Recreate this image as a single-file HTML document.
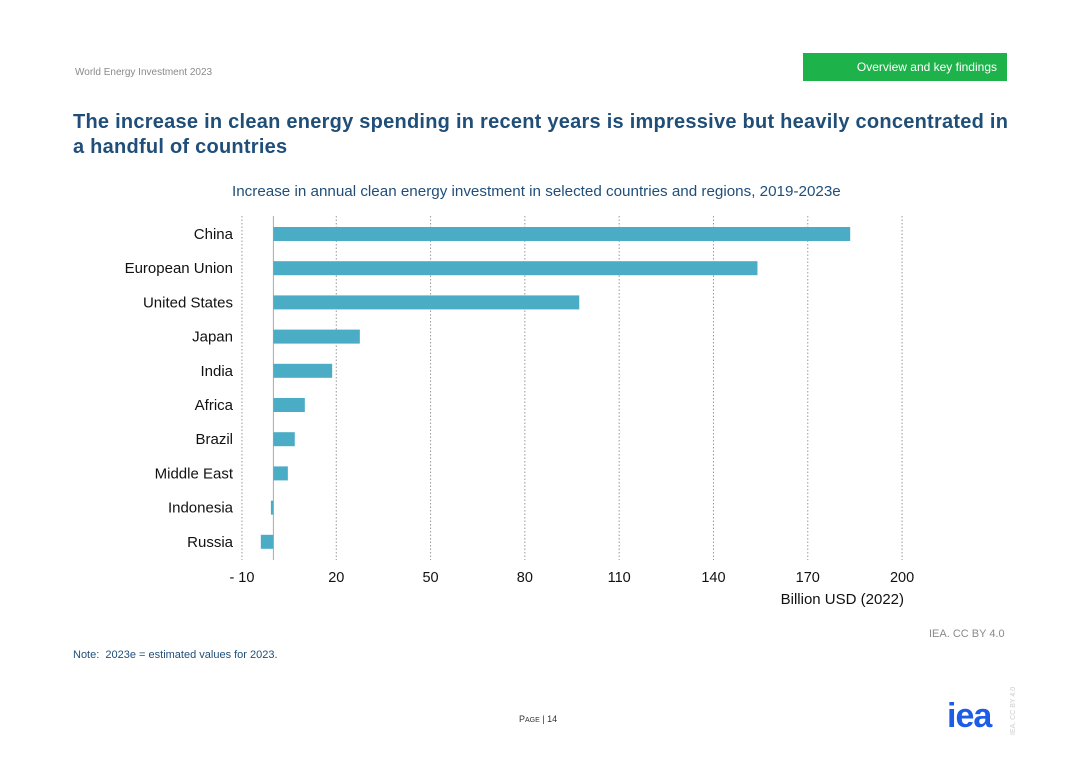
<!DOCTYPE html>
<html><head><meta charset="utf-8"><style>
body{margin:0;width:1080px;height:763px;background:#fff;font-family:"Liberation Sans",sans-serif;position:relative;overflow:hidden}
.a{position:absolute;white-space:nowrap}
</style></head><body>
<div class="a" style="left:75px;top:67px;font-size:10px;color:#8a8a8a">World Energy Investment 2023</div>
<div class="a" style="left:803px;top:53px;width:204px;height:28px;background:#1db34a;color:#fff;font-size:12px;line-height:28px;text-align:right;box-sizing:border-box;padding-right:10px">Overview and key findings</div>
<div class="a" style="left:73px;top:110px;font-size:20px;font-weight:bold;color:#1f4e79;line-height:25px;letter-spacing:0.25px">The increase in clean energy spending in recent years is impressive but heavily concentrated in<br>a handful of countries</div>
<div class="a" style="left:232px;top:183px;font-size:15.2px;color:#1f4e79">Increase in annual clean energy investment in selected countries and regions, 2019-2023e</div>
<svg class="a" style="left:0;top:0" width="1080" height="763" id="chart"></svg>
<div class="a" style="left:929px;top:628px;font-size:11px;color:#8a8a8a">IEA. CC BY 4.0</div>
<div class="a" style="left:73px;top:649px;font-size:11px;color:#1f4e79">Note:&nbsp; 2023e = estimated values for 2023.</div>
<div class="a" style="left:519px;top:714px;font-size:9px;color:#333">P<span style="font-size:7px">AGE</span> | 14</div>
<div class="a" style="left:947px;top:697px;font-size:34px;font-weight:bold;color:#1d5ce6;letter-spacing:-1px">iea</div>
<div class="a" style="left:1010px;font-size:7px;color:#ccc;transform:rotate(-90deg);transform-origin:0 0;top:735px">IEA. CC BY 4.0</div>
<script>
const categories=["China","European Union","United States","Japan","India","Africa","Brazil","Middle East","Indonesia","Russia"];
const values=[183.5,154,97.3,27.5,18.7,10,6.8,4.6,-0.8,-4];
const ticks=[-10,20,50,80,110,140,170,200];
const tickLabels=["- 10","20","50","80","110","140","170","200"];
const svg=document.getElementById('chart');const NS='http://www.w3.org/2000/svg';
const x=v=>273.4+v*(94.3/30);const y0=234,step=34.2;
function mk(t,a){const e=document.createElementNS(NS,t);for(const k in a)e.setAttribute(k,a[k]);svg.appendChild(e);return e;}
ticks.forEach((t,i)=>{
 const g=mk('line',{x1:x(t),x2:x(t),y1:216,y2:560,stroke:'#999','stroke-dasharray':'1.5,2','stroke-width':1});
 
 
 const l=mk('text',{x:x(t),y:582,'text-anchor':'middle','font-size':14.5,fill:'#111','font-family':'Liberation Sans'});
 l.textContent=tickLabels[i];
 
 
});
const z=mk('line',{x1:x(0),x2:x(0),y1:216,y2:560,stroke:'#aaa','stroke-width':1});


categories.forEach((c,i)=>{
 const cy=y0+i*step,v=values[i];
 const r=mk('rect',{x:Math.min(x(0),x(v)),y:cy-7,width:Math.abs(x(v)-x(0)),height:14,fill:'#4bacc6'});
 
 
 const t=mk('text',{x:233,y:cy+5,'text-anchor':'end','font-size':15,fill:'#111','font-family':'Liberation Sans'});
 t.textContent=c;
 
 
});
const at=mk('text',{x:904,y:604,'text-anchor':'end','font-size':15,fill:'#111','font-family':'Liberation Sans'});
at.textContent='Billion USD (2022)';


</script>
</body></html>
